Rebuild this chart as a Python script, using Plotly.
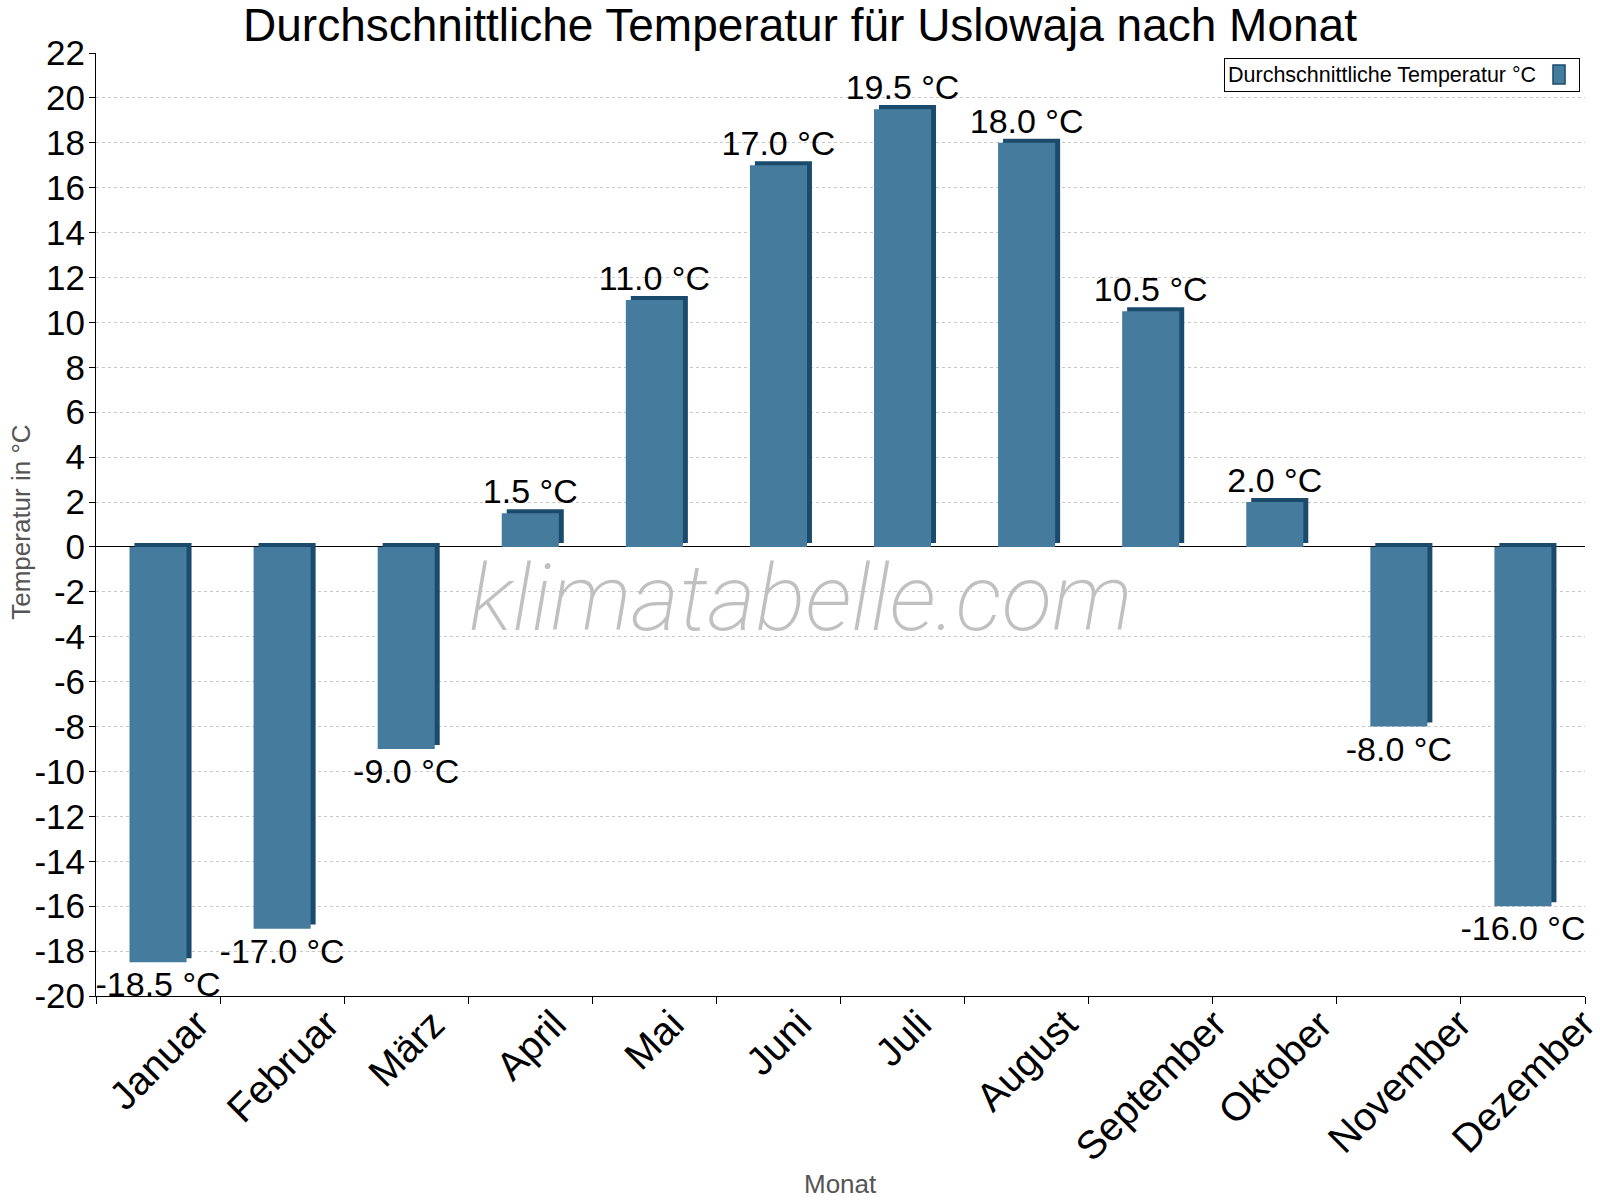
import plotly.graph_objects as go

# Monthly average temperatures for Uslowaja
months = ['Januar', 'Februar', 'März', 'April', 'Mai', 'Juni', 'Juli',
          'August', 'September', 'Oktober', 'November', 'Dezember']
temps = [-18.5, -17.0, -9.0, 1.5, 11.0, 17.0, 19.5, 18.0, 10.5, 2.0, -8.0, -16.0]
y_ticks = list(range(-20, 23, 2))

front_color = '#457b9d'
side_color = '#1b4b6c'
font = 'Liberation Sans, Arial, sans-serif'

bar_w = 0.46
depth_x = 0.040   # fake 3d depth in category units
depth_y = 0.18    # fake 3d depth in temperature units

# plain hyphen minus like the original, not the unicode minus
labels = [f'{v:.1f} °C' for v in temps]
tick_text = [str(t) for t in y_ticks]

fig = go.Figure()

# dark "side" of each bar, shifted right and up
fig.add_trace(go.Bar(
    x=months, y=temps, base=depth_y,
    width=bar_w, offset=-bar_w / 2 + depth_x,
    marker=dict(color=side_color, line=dict(width=0)),
    hoverinfo='skip', showlegend=False,
))

# front face with value labels
fig.add_trace(go.Bar(
    x=months, y=temps,
    width=bar_w, offset=-bar_w / 2,
    marker=dict(color=front_color, line=dict(width=0)),
    text=labels, textposition='outside',
    textfont=dict(size=34, color='black', family=font),
    constraintext='none', cliponaxis=False,
    name='Durchschnittliche Temperatur °C', showlegend=False,
))

fig.update_layout(
    width=1600, height=1200,
    barmode='overlay',
    plot_bgcolor='white', paper_bgcolor='white',
    font=dict(family=font, color='black'),
    title=dict(text='Durchschnittliche Temperatur für Uslowaja nach Monat',
               x=0.5, xanchor='center', xref='container',
               y=0.979, yanchor='middle', yref='container',
               font=dict(size=46, color='black', family=font)),
    margin=dict(l=96, r=15, t=53, b=204),
    showlegend=False,
)

# month labels are drawn as rotated annotations (centred under each bar)
fig.update_xaxes(
    type='category', range=[-0.5, len(months) - 0.5],
    showgrid=False, showticklabels=False, automargin=False,
    ticks='outside', ticklen=7, tickcolor='black',
    tickson='boundaries',
    showline=True, linecolor='black', linewidth=1,
)
for m in months:
    fig.add_annotation(
        text=m, x=m, xref='x', y=-0.004, yref='paper',
        xanchor='center', yanchor='top', textangle=-45, showarrow=False,
        borderpad=0,
        font=dict(size=39.5, color='black', family=font),
    )
fig.add_annotation(
    text='Monat', xref='paper', yref='paper', x=0.5, y=-0.1994,
    xanchor='center', yanchor='middle', showarrow=False,
    font=dict(size=26, color='#555555', family=font),
)
fig.add_annotation(
    text='Temperatur in °C', xref='paper', yref='paper', x=-0.0505, y=0.5027,
    xanchor='center', yanchor='middle', textangle=-90, showarrow=False,
    font=dict(size=26, color='#555555', family=font),
)

fig.update_yaxes(
    range=[-20, 22], tickvals=y_ticks, ticktext=tick_text, automargin=False,
    tickfont=dict(size=35, color='black', family=font),
    ticks='outside', ticklen=6, tickcolor='black', ticklabelstandoff=-3,
    showline=True, linecolor='black', linewidth=1,
    showgrid=True, gridcolor='#c8c8c8', griddash='dot', gridwidth=1,
    zeroline=True, zerolinecolor='black', zerolinewidth=1,
)

# watermark
fig.add_annotation(
    text='klimatabelle.com', xref='paper', yref='paper',
    x=0.473, y=0.422, showarrow=False,
    font=dict(size=93, color='#c0c0c0', family='Roboto', style='italic', weight=200),
)

# legend box with swatch on the right
fig.add_annotation(
    text='Durchschnittliche Temperatur °C', xref='paper', yref='paper',
    x=0.9966, y=0.9947, xanchor='right', yanchor='top', showarrow=False,
    width=348, height=26, align='left',
    font=dict(size=21.5, color='black', family=font),
    bordercolor='black', borderwidth=1, borderpad=3,
)
fig.add_shape(
    type='rect', xref='paper', yref='paper',
    x0=0.9785, x1=0.9866, y0=0.9671, y1=0.9873,
    fillcolor=front_color, line=dict(color=side_color, width=1.5),
)

fig.write_html('out.html', config={'displayModeBar': False},
               post_script="document.body.style.margin='0';")
